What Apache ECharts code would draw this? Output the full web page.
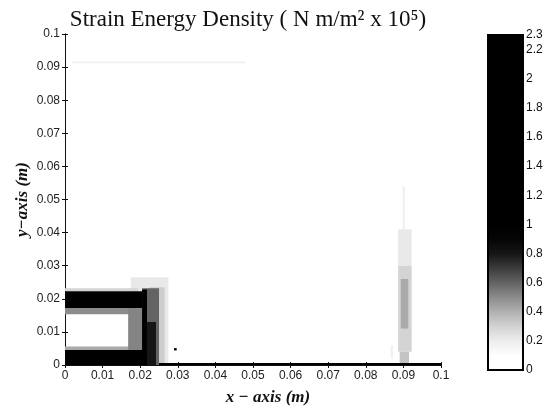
<!DOCTYPE html>
<html><head><meta charset="utf-8">
<script src="https://cdn.jsdelivr.net/npm/echarts@6/dist/echarts.min.js"></script>
<style>html,body{margin:0;padding:0;background:#fff}#c{width:546px;height:411px}</style>
</head><body><div id="c"></div>
<script>
// Patches of strain energy density: [x0, x1, y0, y1, SED] (m, m, m, m, N m/m^2 x 1e5)
const cornerPatches = [
  [0.0175, 0.0275, 0.0005, 0.0265, 0.22],
  [0.0225, 0.0265, 0.0005, 0.0235, 0.32],
  [0.0,    0.0195, 0.0223, 0.0232, 0.30],
  [0.0,    0.0185, 0.0153, 0.0172, 0.50],
  [0.0,    0.0215, 0.0045, 0.0056, 0.42],
  [0.0168, 0.0205, 0.0045, 0.0172, 0.52],
  [0.0205, 0.0250, 0.0,    0.0232, 0.60],
  [0.0,    0.0205, 0.0172, 0.0223, 1.30],
  [0.0,    0.0235, 0.0,    0.0045, 1.30],
  [0.0205, 0.0218, 0.0,    0.0228, 1.30],
  [0.0218, 0.0242, 0.0,    0.0130, 0.80]
];
const tracePatches = [
  [0.0290, 0.0297, 0.0044, 0.0051, 1.50],
  [0.0250, 0.1,    0.0,    0.0006, 1.00],
  [0.002,  0.048,  0.0912, 0.0917, 0.19]
];
const plumePatches = [
  [0.0886, 0.0922, 0.030, 0.041, 0.22],
  [0.0886, 0.0922, 0.004, 0.030, 0.30],
  [0.0893, 0.0913, 0.011, 0.026, 0.42],
  [0.0898, 0.0904, 0.041, 0.054, 0.18],
  [0.0890, 0.0915, 0.0,   0.004, 0.35],
  [0.0866, 0.0872, 0.002, 0.006, 0.18]
];
const sedMin = 0, sedMax = 2.3;
const colorbarTicks = [0, 0.2, 0.4, 0.6, 0.8, 1, 1.2, 1.4, 1.6, 1.8, 2, 2.2, 2.3];
// grey scale, one entry per 0.1 from 0 to 2.3
const greys = ['#ffffff','#ffffff','#eeeeee','#d4d4d4','#b2b2b2','#8c8c8c','#646464','#3c3c3c','#161616','#050505',
  '#000000','#000000','#000000','#000000','#000000','#000000','#000000','#000000','#000000','#000000','#000000','#000000','#000000','#000000'];

const allPatches = cornerPatches.concat(plumePatches, tracePatches);
const fmt = v => String(+v.toFixed(2));
const labelFont = {fontFamily:'Liberation Sans', fontSize:12, color:'#222'};
const nameFont = {fontFamily:'Liberation Serif', fontSize:17, fontStyle:'italic', fontWeight:'bold', color:'#111'};

const chart = echarts.init(document.getElementById('c'), null, {renderer:'canvas'});
chart.setOption({
  animation:false,
  backgroundColor:'#fff',
  title:{text:'Strain Energy Density ( N m/m\u00b2 x 10\u2075)', left:243, textAlign:'center', top:3,
    textStyle:{fontFamily:'Liberation Serif', fontSize:23, fontWeight:'normal', color:'#111'}},
  grid:[
    {left:65, top:34, width:376, height:339},
    {left:488, top:35, width:35, height:335}
  ],
  xAxis:[
    {type:'value', gridIndex:0, min:0, max:0.1, interval:0.01, position:'bottom',
     name:'x \u2212 axis (m)', nameLocation:'middle', nameGap:24, nameTextStyle:Object.assign({padding:[0,0,0,30]}, nameFont),
     axisLine:{show:true, lineStyle:{color:'#111', width:1}}, axisTick:{show:true, inside:true, length:3, lineStyle:{color:'#111'}},
     axisLabel:Object.assign({formatter:fmt, margin:5}, labelFont), splitLine:{show:false}},
    {type:'value', gridIndex:0, min:0, max:0.1, interval:0.01, position:'top',
     axisLine:{show:true, lineStyle:{color:'#111', width:1}}, axisTick:{show:true, inside:true, length:3, lineStyle:{color:'#111'}},
     axisLabel:{show:false}, splitLine:{show:false}},
    {type:'value', gridIndex:1, min:0, max:1, show:false}
  ],
  yAxis:[
    {type:'value', gridIndex:0, min:0, max:0.1, interval:0.01, position:'left',
     name:'y\u2212axis (m)', nameLocation:'middle', nameGap:34, nameMoveOverlap:false, nameTextStyle:nameFont,
     axisLine:{show:true, lineStyle:{color:'#111', width:1}}, axisTick:{show:true, inside:true, length:3, lineStyle:{color:'#111'}},
     axisLabel:Object.assign({formatter:fmt, margin:5}, labelFont), splitLine:{show:false}},
    {type:'value', gridIndex:0, min:0, max:0.1, interval:0.01, position:'right',
     axisLine:{show:true, lineStyle:{color:'#111', width:1}}, axisTick:{show:true, inside:true, length:3, lineStyle:{color:'#111'}},
     axisLabel:{show:false}, splitLine:{show:false}},
    {type:'value', gridIndex:1, min:sedMin, max:sedMax, position:'right',
     axisLine:{show:false}, splitLine:{show:false},
     axisTick:{show:true, inside:true, length:2, customValues:colorbarTicks, lineStyle:{color:'#fff'}},
     axisLabel:{customValues:colorbarTicks, margin:3, formatter:v=>String(v), fontFamily:'Liberation Sans', fontSize:12, color:'#111'}}
  ],
  visualMap:{type:'continuous', show:false, min:sedMin, max:sedMax, dimension:4, seriesIndex:[0], inRange:{color:greys}},
  series:[
    {type:'custom', xAxisIndex:0, yAxisIndex:0, data:allPatches, clip:true,
     encode:{x:[0,1], y:[2,3]},
     renderItem:function(params, api){
       const p0 = api.coord([api.value(0), api.value(3)]);
       const p1 = api.coord([api.value(1), api.value(2)]);
       return {type:'rect', shape:{x:p0[0], y:p0[1], width:p1[0]-p0[0], height:p1[1]-p0[1]},
               style:{fill:api.visual('color'), stroke:null}};
     }},
    {type:'custom', xAxisIndex:2, yAxisIndex:2, data:[[0, 1, sedMin, sedMax]], encode:{x:[0,1], y:[2,3]},
     renderItem:function(params, api){
       const p0 = api.coord([api.value(0), api.value(3)]);
       const p1 = api.coord([api.value(1), api.value(2)]);
       const stops = greys.map((c,i)=>({offset:Math.min(1, i*0.1/(sedMax-sedMin)), color:c}));
       return {type:'rect', shape:{x:p0[0], y:p0[1], width:p1[0]-p0[0], height:p1[1]-p0[1]},
               style:{fill:{type:'linear', x:0, y:1, x2:0, y2:0, colorStops:stops}, stroke:'#000', lineWidth:2}};
     }}
  ]
});
</script></body></html>
